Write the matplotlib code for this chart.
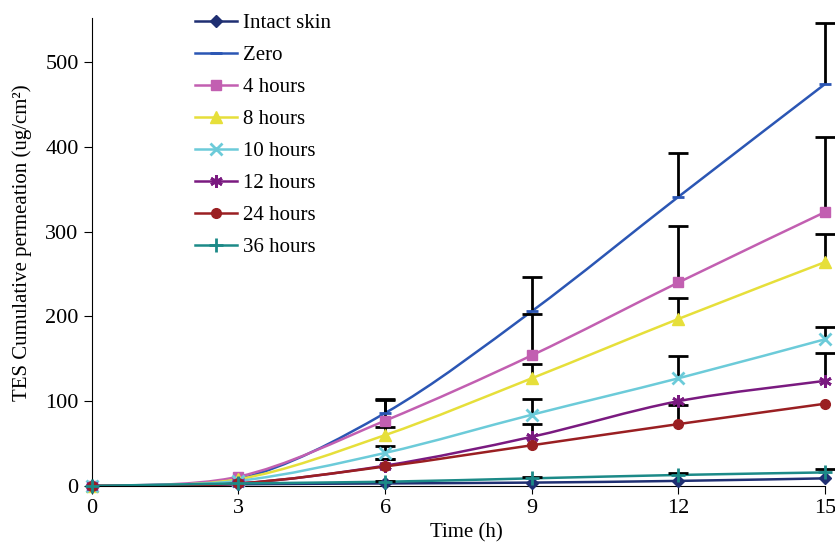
import numpy as np
import matplotlib.pyplot as plt
from matplotlib.path import Path
from matplotlib.patches import PathPatch
from matplotlib.lines import Line2D

plt.rcParams['font.family'] = ['Liberation Serif', 'DejaVu Serif']

time = [0, 3, 6, 9, 12, 15]
labels = ['Intact skin', 'Zero', '4 hours', '8 hours', '10 hours', '12 hours', '24 hours', '36 hours']
intact = [0, 2, 3, 4, 6, 9]
zero = [0, 8, 86, 206, 341, 474]
h4 = [0, 11, 77, 154, 240, 323]
h8 = [0, 8, 60, 127, 197, 264]
h10 = [0, 6, 39, 84, 127, 173]
h12 = [0, 3, 24, 58, 100, 124]
h24 = [0, 3, 23, 48, 73, 97]
h36 = [0, 3, 5, 9, 13, 16]
# upper error only
err_intact = [0, 0, 0, 0, 0, 0]
err_zero = [0, 0, 17, 40, 52, 72]
err_h4 = [0, 0, 24, 49, 67, 88]
err_h8 = [0, 0, 10, 17, 25, 33]
err_h10 = [0, 0, 8, 18, 26, 14]
err_h12 = [0, 0, 8, 15, 0, 33]
err_h24 = [0, 0, 9, 0, 22, 0]
err_h36 = [0, 0, 1, 2, 2, 4]

series = [intact, zero, h4, h8, h10, h12, h24, h36]
errors = [err_intact, err_zero, err_h4, err_h8, err_h10, err_h12, err_h24, err_h36]
colors = ['#1f2f72', '#2b56b4', '#c25fb1', '#e6df3a', '#6ccbd9', '#7a1a80', '#9a1f22', '#1c8a88']
markers = ['D', '_', 's', '^', 'x', (6, 2, 0), 'o', '+']
msizes = [6, 8, 7, 8, 8, 9, 7, 10]


def smooth_path(x, y):
    # catmull-rom style smoothing like a spreadsheet "smoothed line"
    pts = np.column_stack([x, y]).astype(float)
    ext = np.vstack([pts[0], pts, pts[-1]])
    verts = [pts[0]]
    codes = [Path.MOVETO]
    for i in range(len(pts) - 1):
        p0, p1, p2, p3 = ext[i], ext[i + 1], ext[i + 2], ext[i + 3]
        c1 = p1 + (p2 - p0) / 6
        c2 = p2 - (p3 - p1) / 6
        verts += [c1, c2, p2]
        codes += [Path.CURVE4] * 3
    return Path(verts, codes)


fig = plt.figure(figsize=(8.35, 5.43), dpi=100)
ax = fig.add_axes([0.110, 0.105, 0.878, 0.862])

t = np.array(time)
handles = []
for y, e, c, m, ms, lab in zip(series, errors, colors, markers, msizes, labels):
    y = np.array(y)
    e = np.array(e)
    mew = 2 if m in ('x', '+', '_', (6, 2, 0)) else 1
    ax.add_patch(PathPatch(smooth_path(t, y), fill=False, edgecolor=c, lw=1.8, zorder=2))
    sel = e > 0
    if sel.any():
        ax.vlines(t[sel], y[sel], y[sel] + e[sel], colors='black', lw=2, zorder=3, clip_on=False)
        ax.plot(t[sel], y[sel] + e[sel], linestyle='none', marker='_', ms=14, mew=2,
                color='black', zorder=3, clip_on=False)
    ax.plot(t, y, linestyle='none', marker=m, color=c, markersize=ms, mew=mew,
            zorder=4, clip_on=False)
    handles.append(Line2D([], [], color=c, lw=1.8, marker=m, markersize=ms, mew=mew, label=lab))

ax.set_xlim(0, 15)
ax.set_ylim(0, 552)
ax.set_xticks([0, 3, 6, 9, 12, 15])
ax.set_yticks([0, 100, 200, 300, 400, 500])
ax.spines['top'].set_visible(False)
ax.spines['right'].set_visible(False)
ax.tick_params(direction='out', length=6, labelsize=16)
ax.set_xlabel('Time (h)', fontsize=15)
ax.set_ylabel('TES Cumulative permeation (ug/cm²)', fontsize=15)
ax.xaxis.set_label_coords(0.511, -0.08)
ax.yaxis.set_label_coords(-0.082, 0.52)

ax.legend(handles=handles, loc='upper left', bbox_to_anchor=(0.115, 1.05), frameon=False,
          fontsize=15, handlelength=2.0, labelspacing=0.6, handletextpad=0.3)

fig.savefig('out.png', dpi=100)
